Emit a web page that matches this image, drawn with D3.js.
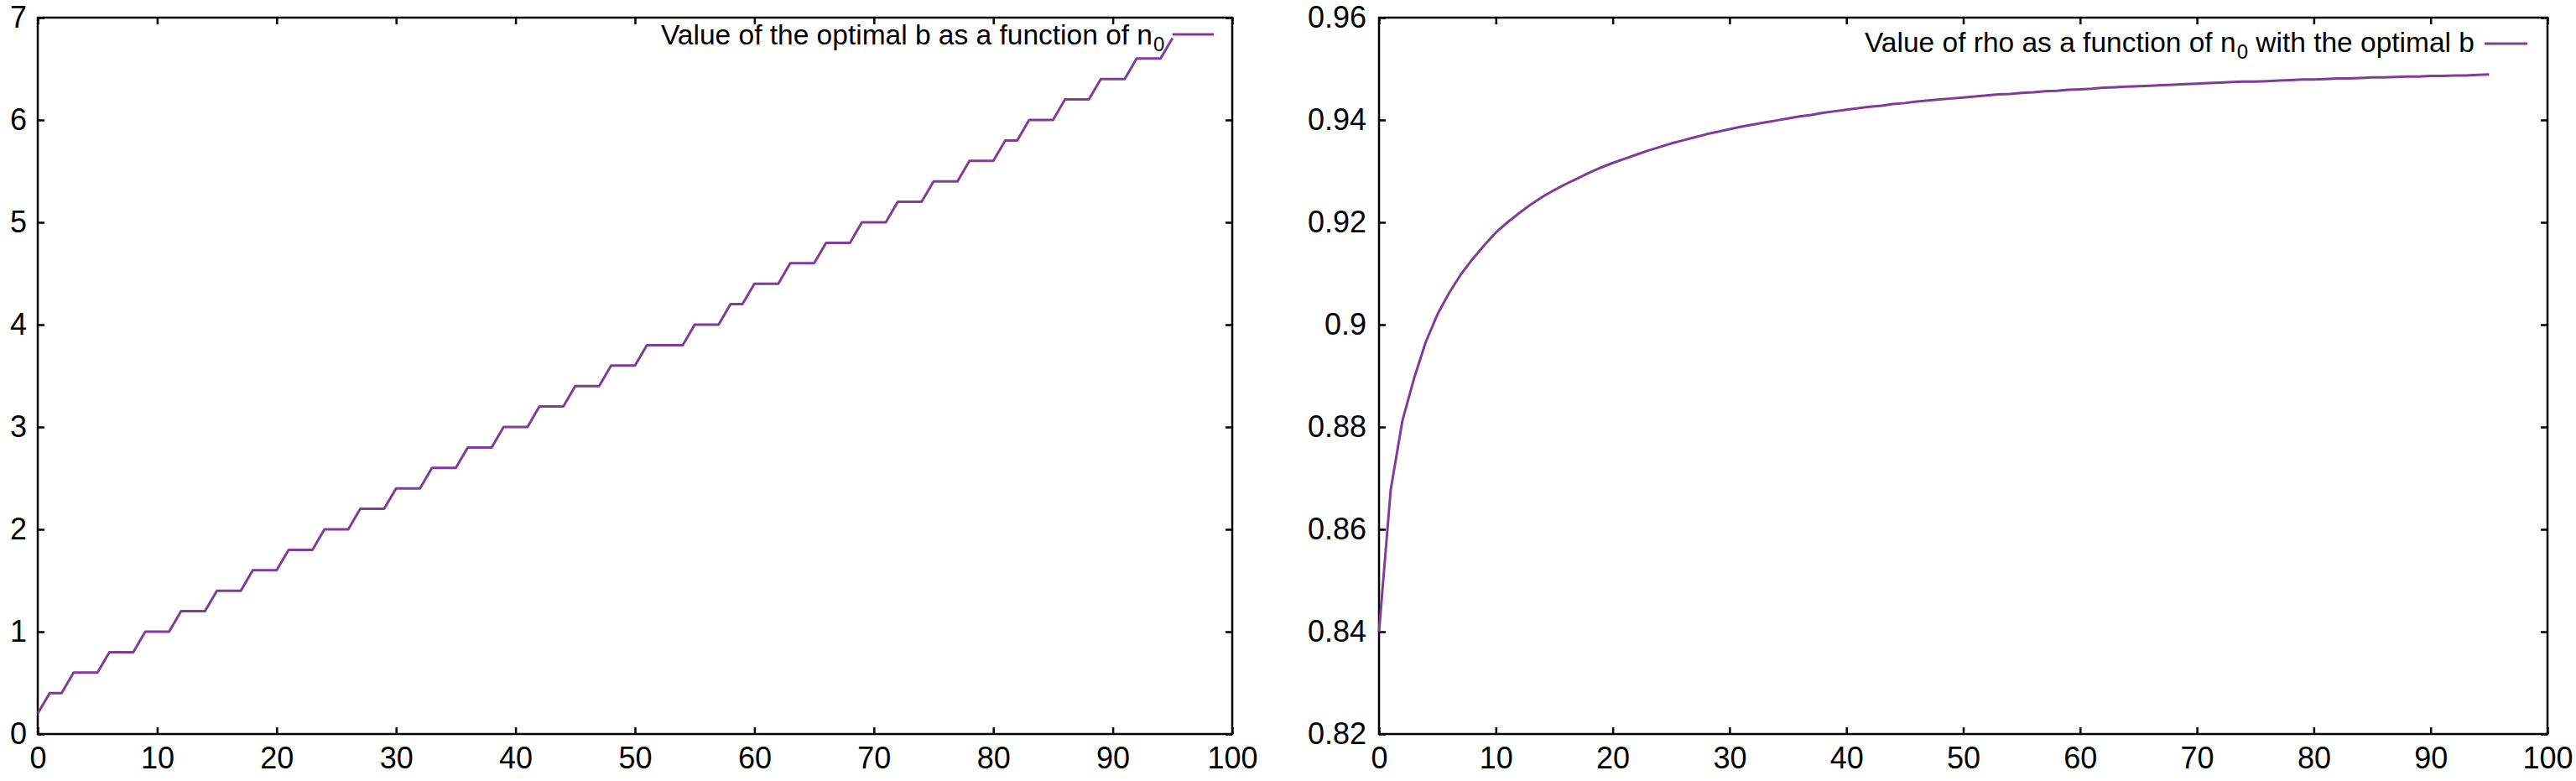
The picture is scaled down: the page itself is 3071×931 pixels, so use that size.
<!DOCTYPE html>
<html>
<head>
<meta charset="utf-8">
<script src="https://cdn.jsdelivr.net/npm/d3@7"></script>
<style>
  html, body { margin: 0; padding: 0; background: #fff; }
  svg { display: block; }
  .axis text { font-family: "Liberation Sans", Arial, Helvetica, sans-serif; font-size: 36px; fill: #000; }
  .axis line { stroke: #000; stroke-width: 2.5; }
  .legend-text { font-family: "Liberation Sans", Arial, Helvetica, sans-serif; fill: #000; }
</style>
</head>
<body>
<div id="chart"></div>
<script>
// n0 values, shared by both panels
const n0 = d3.range(0, 96);

// optimal b for each n0
const optimalB = [
  0.2, 0.4, 0.4, 0.6, 0.6, 0.6, 0.8, 0.8, 0.8, 1.0,
  1.0, 1.0, 1.2, 1.2, 1.2, 1.4, 1.4, 1.4, 1.6, 1.6,
  1.6, 1.8, 1.8, 1.8, 2.0, 2.0, 2.0, 2.2, 2.2, 2.2,
  2.4, 2.4, 2.4, 2.6, 2.6, 2.6, 2.8, 2.8, 2.8, 3.0,
  3.0, 3.0, 3.2, 3.2, 3.2, 3.4, 3.4, 3.4, 3.6, 3.6,
  3.6, 3.8, 3.8, 3.8, 3.8, 4.0, 4.0, 4.0, 4.2, 4.2,
  4.4, 4.4, 4.4, 4.6, 4.6, 4.6, 4.8, 4.8, 4.8, 5.0,
  5.0, 5.0, 5.2, 5.2, 5.2, 5.4, 5.4, 5.4, 5.6, 5.6,
  5.6, 5.8, 5.8, 6.0, 6.0, 6.0, 6.2, 6.2, 6.2, 6.4,
  6.4, 6.4, 6.6, 6.6, 6.6, 6.8
];

// rho with the optimal b
const rho = [
  0.8400, 0.8677, 0.8812, 0.8895, 0.8966, 0.9020, 0.9062, 0.9098, 0.9128, 0.9155,
  0.9180, 0.9200, 0.9218, 0.9235, 0.9250, 0.9263, 0.9275, 0.9286, 0.9297, 0.9307,
  0.9316, 0.9324, 0.9332, 0.9340, 0.9347, 0.9354, 0.9360, 0.9366, 0.9372, 0.9377,
  0.9382, 0.9387, 0.9391, 0.9395, 0.9399, 0.9403, 0.9407, 0.9410, 0.9414, 0.9417,
  0.9420, 0.9423, 0.9426, 0.9428, 0.9431, 0.9433, 0.9436, 0.9438, 0.9440, 0.9442,
  0.9444, 0.9446, 0.9448, 0.9450, 0.9451, 0.9453, 0.9454, 0.9456, 0.9457, 0.9459,
  0.9460, 0.9461, 0.9463, 0.9464, 0.9465, 0.9466, 0.9467, 0.9468, 0.9469, 0.9470,
  0.9471, 0.9472, 0.9473, 0.9474, 0.9475, 0.9475, 0.9476, 0.9477, 0.9478, 0.9479,
  0.9479, 0.9480, 0.9481, 0.9481, 0.9482, 0.9483, 0.9483, 0.9484, 0.9485, 0.9485,
  0.9486, 0.9486, 0.9487, 0.9487, 0.9488, 0.9489
];

const xTicks = d3.range(0, 101, 10);
const bTicks = d3.range(0, 8, 1);
const rhoTicks = [0.82, 0.84, 0.86, 0.88, 0.9, 0.92, 0.94, 0.96];

const lineColor = '#7e3d97';
const W = 3071, H = 931;

const svg = d3
  .select('#chart')
  .append('svg')
  .attr('width', W)
  .attr('height', H);

svg.append('rect').attr('width', W).attr('height', H).attr('fill', '#fff');

function drawPanel(opts) {
  const { left, right, top, bottom, xDomain, yDomain, yTicks, yFormat, yPad, values } = opts;

  const xScale = d3.scaleLinear().domain(xDomain).range([left, right]);
  const yScale = d3.scaleLinear().domain(yDomain).range([bottom, top]);

  const g = svg.append('g');

  // bottom axis with labels, ticks pointing inward
  g.append('g')
    .attr('class', 'axis')
    .attr('transform', `translate(0, ${bottom})`)
    .call(d3.axisBottom(xScale).tickValues(xTicks).tickSizeInner(-8).tickSizeOuter(0).tickPadding(15))
    .call(a => a.select('.domain').remove());

  // mirrored top ticks
  g.append('g')
    .attr('class', 'axis')
    .attr('transform', `translate(0, ${top})`)
    .call(d3.axisTop(xScale).tickValues(xTicks).tickSizeInner(-8).tickSizeOuter(0).tickFormat(''))
    .call(a => a.select('.domain').remove());

  // left axis with labels
  g.append('g')
    .attr('class', 'axis')
    .attr('transform', `translate(${left}, 0)`)
    .call(d3.axisLeft(yScale).tickValues(yTicks).tickFormat(yFormat).tickSizeInner(-8).tickSizeOuter(0).tickPadding(yPad))
    .call(a => a.select('.domain').remove());

  // mirrored right ticks
  g.append('g')
    .attr('class', 'axis')
    .attr('transform', `translate(${right}, 0)`)
    .call(d3.axisRight(yScale).tickValues(yTicks).tickSizeInner(-8).tickSizeOuter(0).tickFormat(''))
    .call(a => a.select('.domain').remove());

  // border box
  g.append('rect')
    .attr('x', left)
    .attr('y', top)
    .attr('width', right - left)
    .attr('height', bottom - top)
    .attr('fill', 'none')
    .attr('stroke', '#000')
    .attr('stroke-width', 2.5);

  const line = d3
    .line()
    .x((d, i) => xScale(n0[i]))
    .y(d => yScale(d));

  g.append('path')
    .datum(values)
    .attr('fill', 'none')
    .attr('stroke', lineColor)
    .attr('stroke-width', 3)
    .attr('stroke-linejoin', 'round')
    .attr('d', line);

  return g;
}

const leftPanel = drawPanel({
  left: 45, right: 1469, top: 21, bottom: 875,
  xDomain: [0, 100], yDomain: [0, 7],
  yTicks: bTicks, yFormat: d3.format('d'), yPad: 13,
  values: optimalB
});

const rightPanel = drawPanel({
  left: 1644, right: 3037, top: 21, bottom: 875,
  xDomain: [0, 100], yDomain: [0.82, 0.96],
  yTicks: rhoTicks, yFormat: d => d3.format('.2f')(d).replace(/^0\.90$/, '0.9'), yPad: 15,
  values: rho
});

// legends (gnuplot style: text then sample line, top right)
// parts: [text, isSubscript]
function legend(g, parts, x, y) {
  const t = g.append('text')
    .attr('class', 'legend-text')
    .attr('x', x)
    .attr('y', y)
    .attr('font-size', 33.5);
  let shifted = false;
  parts.forEach(([txt, sub]) => {
    const dy = sub ? 8 : (shifted ? -8 : 0);
    shifted = sub;
    t.append('tspan')
      .attr('dy', dy)
      .attr('dx', sub ? 1 : 0)
      .attr('font-size', sub ? 24 : 33.5)
      .text(txt);
  });
}

function sample(g, x1, x2, y) {
  g.append('line')
    .attr('x1', x1).attr('x2', x2)
    .attr('y1', y).attr('y2', y)
    .attr('stroke', lineColor)
    .attr('stroke-width', 3);
}

legend(leftPanel, [['Value of the optimal b as a function of n', false], ['0', true]], 788, 53);
sample(leftPanel, 1398, 1447, 41);

legend(rightPanel, [['Value of rho as a function of n', false], ['0', true], [' with the optimal b', false]], 2223, 62);
sample(rightPanel, 2962, 3013, 52);
</script>
</body>
</html>
